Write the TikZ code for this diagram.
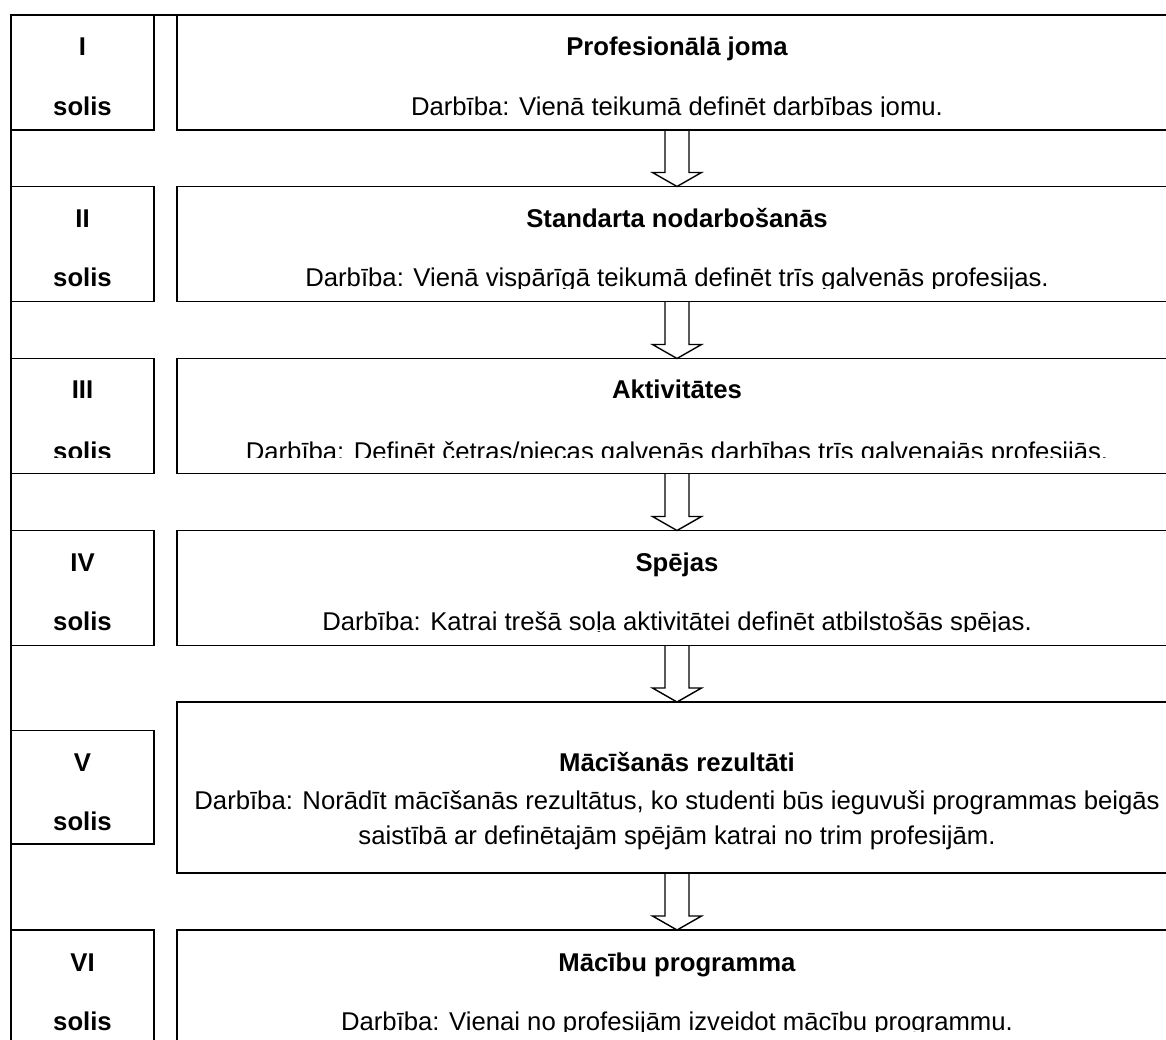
\documentclass[tikz,border=0pt]{standalone}
\usepackage{fontspec}
\setmainfont{Liberation Sans}
\usetikzlibrary{positioning,calc}

\begin{document}
\begin{tikzpicture}[x=1pt,y=-1pt,line width=1.6pt,
    font=\fontsize{25.7}{36}\selectfont,
    solisbox/.style={draw,inner sep=0pt,outer sep=0pt,minimum width=143pt,
      minimum height=115pt,anchor=north west},
    jomabox/.style={draw,inner sep=0pt,outer sep=0pt,minimum width=1000pt,
      minimum height=115pt,anchor=north west},
    txt/.style={anchor=base,inner sep=0pt},
    head/.style={txt,font=\fontsize{25.7}{36}\selectfont\bfseries},
    blockarrow/.style={line width=1.4pt,line join=miter}]

  \path[use as bounding box,clip] (0,0) rectangle (1166,1039);

  % frame
  \draw (11,1060) -- (11,15) -- (1180,15);

  % boxes
  \node[solisbox] (k1) at (11,15)    {};
  \node[jomabox]  (r1) at (177,15)   {};
  \node[solisbox] (k2) at (11,186.5) {};
  \node[jomabox]  (r2) at (177,186.5){};
  \node[solisbox] (k3) at (11,358.5) {};
  \node[jomabox]  (r3) at (177,358.5){};
  \node[solisbox] (k4) at (11,530.5) {};
  \node[jomabox]  (r4) at (177,530.5){};
  \node[solisbox,minimum height=113.5pt] (k5) at (11,730.5) {};
  \node[jomabox,minimum height=171pt]    (r5) at (177,702)  {};
  \node[solisbox] (k6) at (11,930)   {};
  \node[jomabox]  (r6) at (177,930)  {};

  % I
  \begin{scope}
    \clip (0,15) rectangle (1166,116.5);
    \node[head] (n1) at (82.5,55)  {I};
    \node[head] (s1) at (82.5,115) {solis};
    \node[head] (t1) at (677,55)   {Profesionālā joma};
    \node[txt]  (d1) at (677,115)  {Darbība: Vienā teikumā definēt darbības jomu.};
  \end{scope}

  % II
  \begin{scope}
    \clip (0,186.5) rectangle (1166,288);
    \node[head] (n2) at (82.5,227) {II};
    \node[head] (s2) at (82.5,286) {solis};
    \node[head] (t2) at (677,227)  {Standarta nodarbošanās};
    \node[txt]  (d2) at (677,286)  {Darbība: Vienā vispārīgā teikumā definēt trīs galvenās profesijas.};
  \end{scope}

  % III
  \begin{scope}
    \clip (0,358.5) rectangle (1166,457);
    \node[head] (n3) at (82.5,398.5) {III};
    \node[head] (s3) at (82.5,460)   {solis};
    \node[head] (t3) at (677,398.5)  {Aktivitātes};
    \node[txt]  (d3) at (677,460)    {Darbība: Definēt četras/piecas galvenās darbības trīs galvenajās profesijās.};
  \end{scope}

  % IV
  \begin{scope}
    \clip (0,530.5) rectangle (1166,631.5);
    \node[head] (n4) at (82.5,571) {IV};
    \node[head] (s4) at (82.5,630) {solis};
    \node[head] (t4) at (677,571)  {Spējas};
    \node[txt]  (d4) at (677,630)  {Darbība: Katrai trešā soļa aktivitātei definēt atbilstošās spējas.};
  \end{scope}

  % V
  \node[head] (n5) at (82.5,771) {V};
  \node[head] (s5) at (82.5,830) {solis};
  \node[head] (t5) at (677,771)  {Mācīšanās rezultāti};
  \node[txt]  (d5) at (677,809)  {Darbība: Norādīt mācīšanās rezultātus, ko studenti būs ieguvuši programmas beigās};
  \node[txt]  (e5) at (677,844)  {saistībā ar definētajām spējām katrai no trim profesijām.};

  % VI
  \begin{scope}
    \clip (0,930) rectangle (1166,1031.5);
    \node[head] (n6) at (82.5,971)  {VI};
    \node[head] (s6) at (82.5,1030) {solis};
    \node[head] (t6) at (677,971)   {Mācību programma};
    \node[txt]  (d6) at (677,1030)  {Darbība: Vienai no profesijām izveidot mācību programmu.};
  \end{scope}

  % arrows
  \foreach \a/\b in {r1/r2,r2/r3,r3/r4,r4/r5,r5/r6}
    \draw[blockarrow] ($(\a.south)+(-12,0)$) -- ($(\b.north)+(-12,-14)$) -- ++(-12.5,0)
      -- (\b.north) -- ($(\b.north)+(24.5,-14)$) -- ++(-12.5,0) -- ($(\a.south)+(12,0)$);
\end{tikzpicture}
\end{document}
